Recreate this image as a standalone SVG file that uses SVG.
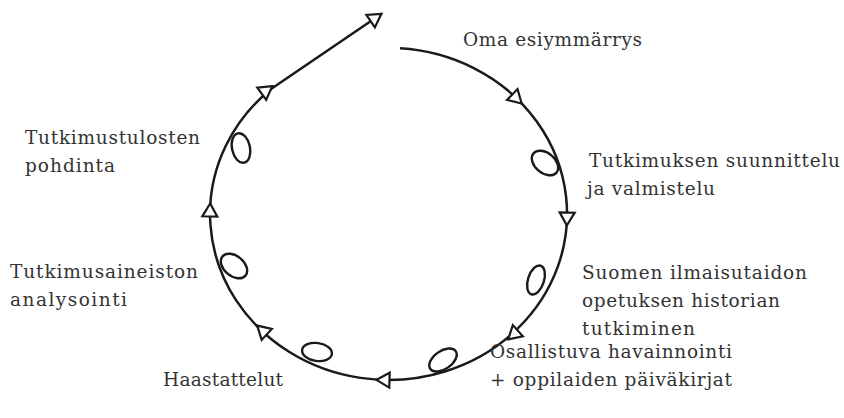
<svg xmlns="http://www.w3.org/2000/svg" width="844" height="418" viewBox="0 0 844 418">
<style>
.ln{fill:none;stroke:#1a1a1a;stroke-width:2.5;stroke-linecap:butt}
.lp{fill:none;stroke:#1a1a1a;stroke-width:2.4}
.t{font-family:"DejaVu Serif","Liberation Serif",serif;font-size:18.5px;fill:#333}
</style>
<defs>
<path id="ah" d="M 6.5 0 L -6.5 -7.5 L -6.5 7.5 Z" fill="#fff" stroke="#1a1a1a" stroke-width="2.2" stroke-linejoin="miter"/>
</defs>
<g id="connectors">
<path class="ln" d="M 400 48.3 A 178.5 166 0 1 1 271.4 88.7 L 382 13.5"/>
<use href="#ah" transform="translate(517,99) rotate(44)"/>
<use href="#ah" transform="translate(567,219) rotate(91.5)"/>
<use href="#ah" transform="translate(513,335) rotate(138)"/>
<use href="#ah" transform="translate(383,380) rotate(181.6)"/>
<use href="#ah" transform="translate(262,330) rotate(223)"/>
<use href="#ah" transform="translate(210,210) rotate(-88.5)"/>
<use href="#ah" transform="translate(267,90) rotate(-36)"/>
<use href="#ah" transform="translate(376,17.5) rotate(-34.4)"/>
<ellipse class="lp" cx="545" cy="163" rx="15" ry="10" transform="rotate(40 545 163)"/>
<ellipse class="lp" cx="536" cy="280" rx="8" ry="15" transform="rotate(18 536 280)"/>
<ellipse class="lp" cx="443" cy="360" rx="15.5" ry="9" transform="rotate(-35 443 360)"/>
<ellipse class="lp" cx="317" cy="352" rx="15" ry="9" transform="rotate(8 317 352)"/>
<ellipse class="lp" cx="234" cy="266" rx="15" ry="10" transform="rotate(40 234 266)"/>
<ellipse class="lp" cx="241" cy="148" rx="9" ry="15" transform="rotate(-12 241 148)"/>
</g>
<g id="n1"><text class="t" x="463" y="46" textLength="179" lengthAdjust="spacing">Oma esiymmärrys</text></g>
<g id="n2"><text class="t" x="589" y="167" textLength="251" lengthAdjust="spacing">Tutkimuksen suunnittelu</text><text class="t" x="587" y="195" textLength="128" lengthAdjust="spacing">ja valmistelu</text></g>
<g id="n3"><text class="t" x="582" y="279" textLength="225" lengthAdjust="spacing">Suomen ilmaisutaidon</text><text class="t" x="582" y="307" textLength="198" lengthAdjust="spacing">opetuksen historian</text><text class="t" x="582" y="335" textLength="113" lengthAdjust="spacing">tutkiminen</text></g>
<g id="n4"><text class="t" x="490" y="358" textLength="242" lengthAdjust="spacing">Osallistuva havainnointi</text><text class="t" x="490" y="386" textLength="242" lengthAdjust="spacing">+ oppilaiden päiväkirjat</text></g>
<g id="n5"><text class="t" x="163" y="386" textLength="120" lengthAdjust="spacing">Haastattelut</text></g>
<g id="n6"><text class="t" x="10" y="278" textLength="188" lengthAdjust="spacing">Tutkimusaineiston</text><text class="t" x="10" y="306" textLength="117" lengthAdjust="spacing">analysointi</text></g>
<g id="n7"><text class="t" x="25" y="144" textLength="175" lengthAdjust="spacing">Tutkimustulosten</text><text class="t" x="25" y="172" textLength="90" lengthAdjust="spacing">pohdinta</text></g>
</svg>
